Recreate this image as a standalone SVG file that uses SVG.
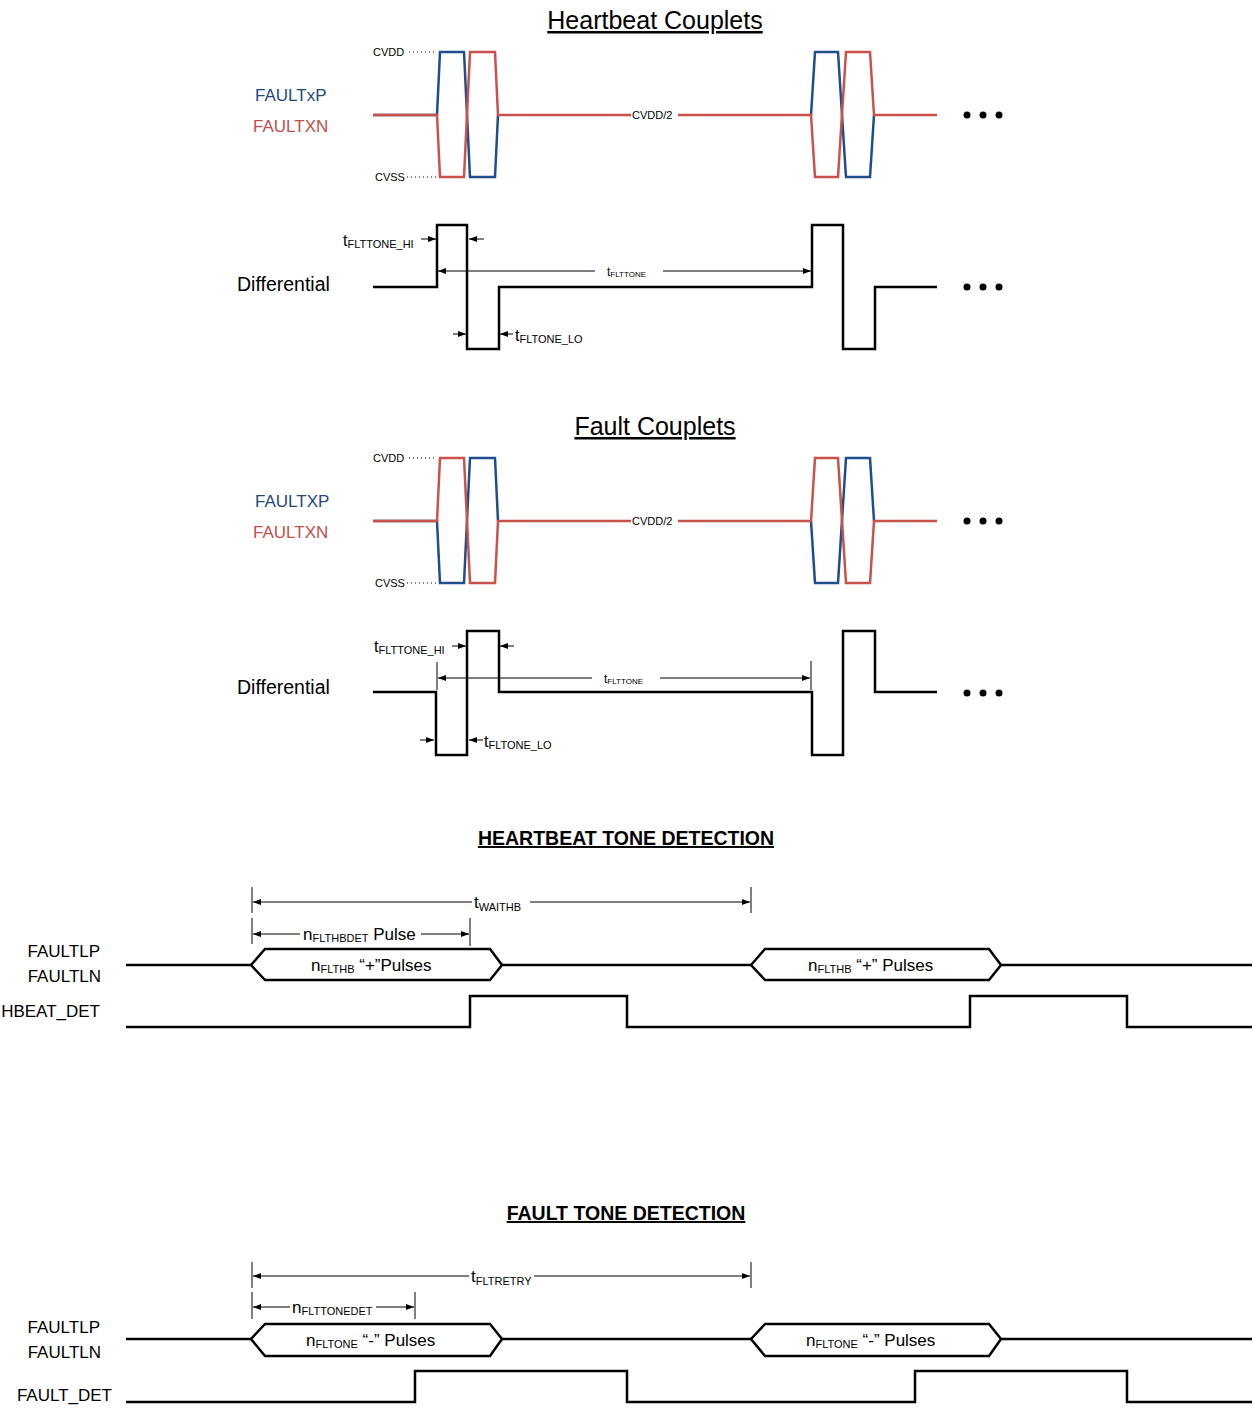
<svg xmlns="http://www.w3.org/2000/svg" width="1253" height="1409" viewBox="0 0 1253 1409">
<style>
text{font-family:"Liberation Sans",Arial,sans-serif;fill:#000}
.title{font-size:25px;text-decoration:underline;text-anchor:middle}
.btitle{font-size:19.5px;font-weight:bold;text-decoration:underline;text-anchor:middle}
.sig{font-size:17px}
.blue{fill:#1f497d}
.red{fill:#c0504d}
.small{font-size:11px}
.wb{fill:none;stroke:#1f4e8c;stroke-width:2.5;stroke-linejoin:miter}
.wr{fill:none;stroke:#c9524c;stroke-width:2.5;stroke-linejoin:miter}
.wk{fill:none;stroke:#000;stroke-width:2.5}
.arr{stroke:#000;stroke-width:1;fill:none;marker-end:url(#ah)}
.tick{stroke:#000;stroke-width:1}
.dot{stroke:#000;stroke-width:1;stroke-dasharray:1 3}
</style>
<defs>
<marker id="ah" markerUnits="userSpaceOnUse" markerWidth="8" markerHeight="6" refX="8" refY="3" orient="auto"><path d="M0,0 L8,3 L0,6 z" fill="#000"/></marker>
</defs>
<rect width="1253" height="1409" fill="#fff"/>

<!-- Heartbeat couplets -->
<g id="hb-couplets">
<text class="title" x="655" y="29">Heartbeat Couplets</text>
<text class="sig blue" x="255" y="101">FAULTxP</text>
<text class="sig red" x="253" y="132">FAULTXN</text>
<text class="small" x="373" y="56">CVDD</text>
<line class="dot" x1="409" y1="52" x2="437" y2="52"/>
<text class="small" x="375" y="181">CVSS</text>
<line class="dot" x1="407" y1="177" x2="437" y2="177"/>
<path class="wb" d="M373,115 L437,115 L440,52 L464,52 L470,177 L495,177 L498,115"/>
<path class="wb" d="M811,115 L815,52 L838,52 L846,177 L870,177 L874,115"/>
<path class="wr" d="M373,115 L437,115 L440,177 L464,177 L470,52 L495,52 L498,115 L811,115 L815,177 L838,177 L846,52 L870,52 L874,115 L937,115"/>
<rect x="631" y="108" width="47" height="14" fill="#fff"/>
<text class="small" x="632" y="119" font-size="11.5">CVDD/2</text>
<circle cx="967" cy="115" r="3.5"/><circle cx="983" cy="115" r="3.5"/><circle cx="999" cy="115" r="3.5"/>
</g>

<g id="hb-differential">
<text x="237" y="291" font-size="19.5">Differential</text>
<path class="wk" d="M373,287 L437,287 L437,225 L467,225 L467,349 L499,349 L499,287 L812,287 L812,225 L843,225 L843,349 L875,349 L875,287 L937,287"/>
<circle cx="967" cy="287" r="3.5"/><circle cx="983" cy="287" r="3.5"/><circle cx="999" cy="287" r="3.5"/>
<text x="343" y="246" font-size="16">t<tspan font-size="11" dy="2">FLTTONE_HI</tspan></text>
<text x="607" y="276" font-size="12">t<tspan font-size="8" dy="1">FLTTONE</tspan></text>
<text x="515" y="341" font-size="16">t<tspan font-size="11" dy="2">FLTONE_LO</tspan></text>
</g>

<!-- Fault couplets -->
<g id="flt-couplets">
<text class="title" x="655" y="435">Fault Couplets</text>
<text class="sig blue" x="255" y="507">FAULTXP</text>
<text class="sig red" x="253" y="538">FAULTXN</text>
<text class="small" x="373" y="462">CVDD</text>
<line class="dot" x1="409" y1="458" x2="437" y2="458"/>
<text class="small" x="375" y="587">CVSS</text>
<line class="dot" x1="407" y1="583" x2="437" y2="583"/>
<path class="wb" d="M373,521 L437,521 L440,583 L464,583 L470,458 L495,458 L498,521"/>
<path class="wb" d="M811,521 L815,583 L838,583 L846,458 L870,458 L874,521"/>
<path class="wr" d="M373,521 L437,521 L440,458 L464,458 L470,583 L495,583 L498,521 L811,521 L815,458 L838,458 L846,583 L870,583 L874,521 L937,521"/>
<rect x="631" y="514" width="47" height="14" fill="#fff"/>
<text class="small" x="632" y="525" font-size="11.5">CVDD/2</text>
<circle cx="967" cy="521" r="3.5"/><circle cx="983" cy="521" r="3.5"/><circle cx="999" cy="521" r="3.5"/>
</g>

<g id="flt-differential">
<text x="237" y="694" font-size="19.5">Differential</text>
<path class="wk" d="M373,692 L436,692 L436,755 L467,755 L467,631 L499,631 L499,692 L812,692 L812,755 L843,755 L843,631 L875,631 L875,692 L937,692"/>
<circle cx="967" cy="693" r="3.5"/><circle cx="983" cy="693" r="3.5"/><circle cx="999" cy="693" r="3.5"/>
<text x="374" y="652" font-size="16">t<tspan font-size="11" dy="2">FLTTONE_HI</tspan></text>
<text x="604" y="683" font-size="12">t<tspan font-size="8" dy="1">FLTTONE</tspan></text>
<text x="484" y="747" font-size="16">t<tspan font-size="11" dy="2">FLTONE_LO</tspan></text>
</g>

<!-- Heartbeat tone detection -->
<g id="hb-detection">
<text class="btitle" x="626" y="845">HEARTBEAT TONE DETECTION</text>
<text class="sig" x="100" y="957" text-anchor="end">FAULTLP</text>
<text class="sig" x="101" y="982" text-anchor="end">FAULTLN</text>
<text class="sig" x="100" y="1017" text-anchor="end">HBEAT_DET</text>
<path class="wk" d="M126,965 L251,965 M502,965 L751,965 M1001,965 L1252,965"/>
<path class="wk" d="M251,965 L265,949 L490,949 L502,965 L490,980 L265,980 Z"/>
<path class="wk" d="M751,965 L765,949 L989,949 L1001,965 L989,980 L765,980 Z"/>
<text x="311" y="971" font-size="17">n<tspan font-size="11" dy="2">FLTHB</tspan><tspan dy="-2"> “+”Pulses</tspan></text>
<text x="808" y="971" font-size="17">n<tspan font-size="11" dy="2">FLTHB</tspan><tspan dy="-2"> “+” Pulses</tspan></text>
<path class="wk" d="M126,1027 L470,1027 L470,996 L627,996 L627,1027 L970,1027 L970,996 L1127,996 L1127,1027 L1252,1027"/>
<text x="474" y="908" font-size="17">t<tspan font-size="11" dy="3">WAITHB</tspan></text>
<text x="303" y="940" font-size="17">n<tspan font-size="11" dy="2">FLTHBDET</tspan><tspan dy="-2"> Pulse</tspan></text>
</g>

<!-- Fault tone detection -->
<g id="flt-detection">
<text class="btitle" x="626" y="1220">FAULT TONE DETECTION</text>
<text class="sig" x="100" y="1333" text-anchor="end">FAULTLP</text>
<text class="sig" x="101" y="1358" text-anchor="end">FAULTLN</text>
<text class="sig" x="112" y="1401" text-anchor="end">FAULT_DET</text>
<path class="wk" d="M126,1339 L251,1339 M502,1339 L751,1339 M1001,1339 L1252,1339"/>
<path class="wk" d="M251,1339 L265,1324 L490,1324 L502,1339 L490,1356 L265,1356 Z"/>
<path class="wk" d="M751,1339 L765,1324 L989,1324 L1001,1339 L989,1356 L765,1356 Z"/>
<text x="306" y="1346" font-size="17">n<tspan font-size="11" dy="2">FLTONE</tspan><tspan dy="-2"> “-” Pulses</tspan></text>
<text x="806" y="1346" font-size="17">n<tspan font-size="11" dy="2">FLTONE</tspan><tspan dy="-2"> “-” Pulses</tspan></text>
<path class="wk" d="M126,1402 L415,1402 L415,1371 L627,1371 L627,1402 L915,1402 L915,1371 L1127,1371 L1127,1402 L1252,1402"/>
<text x="471" y="1282" font-size="17">t<tspan font-size="11" dy="3">FLTRETRY</tspan></text>
<text x="292" y="1313" font-size="17">n<tspan font-size="11" dy="2">FLTTONEDET</tspan></text>
</g>

<g id="connectors">
<!-- heartbeat differential -->
<line class="arr" x1="421" y1="239" x2="436" y2="239"/>
<line class="arr" x1="484" y1="239" x2="469" y2="239"/>
<line class="arr" x1="595" y1="271" x2="438" y2="271"/>
<line class="arr" x1="663" y1="271" x2="811" y2="271"/>
<line class="arr" x1="453" y1="334" x2="466" y2="334"/>
<line class="arr" x1="513" y1="334" x2="500" y2="334"/>
<!-- fault differential -->
<line class="arr" x1="452" y1="646" x2="466" y2="646"/>
<line class="arr" x1="514" y1="646" x2="500" y2="646"/>
<line class="tick" x1="437" y1="662" x2="437" y2="690"/>
<line class="tick" x1="811" y1="661" x2="811" y2="690"/>
<line class="arr" x1="592" y1="678" x2="438" y2="678"/>
<line class="arr" x1="660" y1="678" x2="810" y2="678"/>
<line class="arr" x1="420" y1="740" x2="434" y2="740"/>
<line class="arr" x1="483" y1="740" x2="469" y2="740"/>
<!-- heartbeat detection -->
<line class="tick" x1="252" y1="887" x2="252" y2="913"/>
<line class="tick" x1="751" y1="887" x2="751" y2="913"/>
<line class="arr" x1="472" y1="902" x2="253" y2="902"/>
<line class="arr" x1="530" y1="902" x2="750" y2="902"/>
<line class="tick" x1="252" y1="918" x2="252" y2="944"/>
<line class="tick" x1="470" y1="918" x2="470" y2="946"/>
<line class="arr" x1="300" y1="934" x2="253" y2="934"/>
<line class="arr" x1="421" y1="934" x2="469" y2="934"/>
<!-- fault detection -->
<line class="tick" x1="252" y1="1262" x2="252" y2="1288"/>
<line class="tick" x1="751" y1="1262" x2="751" y2="1288"/>
<line class="arr" x1="469" y1="1276" x2="253" y2="1276"/>
<line class="arr" x1="534" y1="1276" x2="750" y2="1276"/>
<line class="tick" x1="252" y1="1292" x2="252" y2="1319"/>
<line class="tick" x1="415" y1="1292" x2="415" y2="1319"/>
<line class="arr" x1="290" y1="1307" x2="253" y2="1307"/>
<line class="arr" x1="376" y1="1307" x2="414" y2="1307"/>
</g>
</svg>
